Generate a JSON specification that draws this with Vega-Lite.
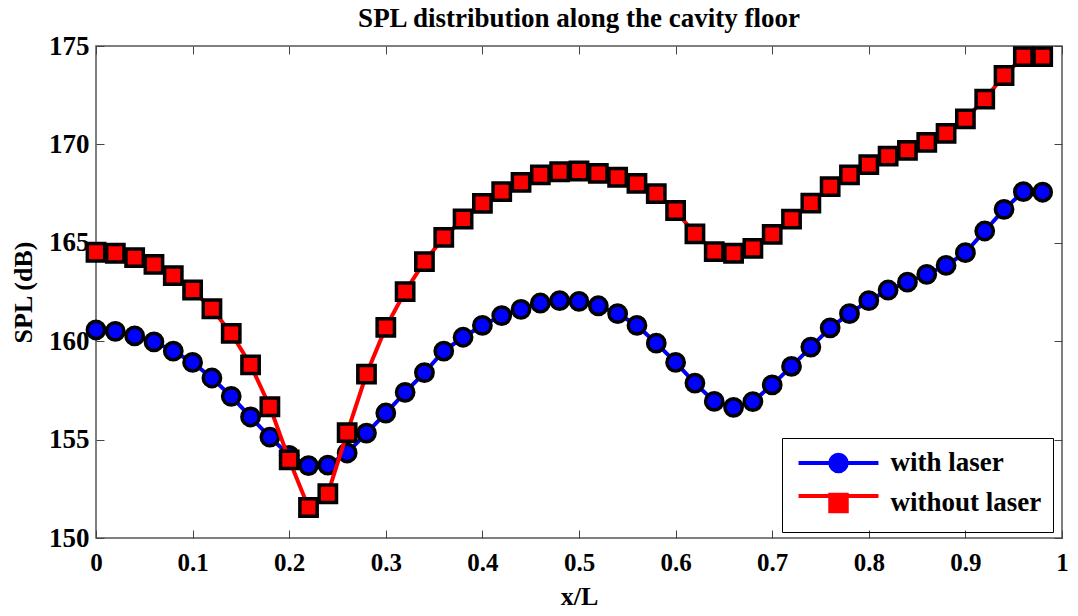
{
  "$schema": "https://vega.github.io/schema/vega-lite/v6.json",
  "width": 966,
  "height": 492,
  "autosize": {"type": "none"},
  "padding": {"left": 96, "top": 46, "right": 16, "bottom": 78},
  "background": "white",
  "title": {
    "text": "SPL distribution along the cavity floor",
    "font": "Liberation Serif",
    "fontSize": 27,
    "fontWeight": "bold",
    "color": "#000",
    "anchor": "middle",
    "frame": "group",
    "offset": -1
  },
  "data": {
    "values": [
      {"x": 0.00, "spl": 160.57, "series": "with laser"},
      {"x": 0.02, "spl": 160.50, "series": "with laser"},
      {"x": 0.04, "spl": 160.27, "series": "with laser"},
      {"x": 0.06, "spl": 159.97, "series": "with laser"},
      {"x": 0.08, "spl": 159.50, "series": "with laser"},
      {"x": 0.10, "spl": 158.92, "series": "with laser"},
      {"x": 0.12, "spl": 158.13, "series": "with laser"},
      {"x": 0.14, "spl": 157.20, "series": "with laser"},
      {"x": 0.16, "spl": 156.15, "series": "with laser"},
      {"x": 0.18, "spl": 155.13, "series": "with laser"},
      {"x": 0.20, "spl": 154.20, "series": "with laser"},
      {"x": 0.22, "spl": 153.68, "series": "with laser"},
      {"x": 0.24, "spl": 153.70, "series": "with laser"},
      {"x": 0.26, "spl": 154.32, "series": "with laser"},
      {"x": 0.28, "spl": 155.33, "series": "with laser"},
      {"x": 0.30, "spl": 156.35, "series": "with laser"},
      {"x": 0.32, "spl": 157.40, "series": "with laser"},
      {"x": 0.34, "spl": 158.40, "series": "with laser"},
      {"x": 0.36, "spl": 159.50, "series": "with laser"},
      {"x": 0.38, "spl": 160.20, "series": "with laser"},
      {"x": 0.40, "spl": 160.80, "series": "with laser"},
      {"x": 0.42, "spl": 161.30, "series": "with laser"},
      {"x": 0.44, "spl": 161.62, "series": "with laser"},
      {"x": 0.46, "spl": 161.94, "series": "with laser"},
      {"x": 0.48, "spl": 162.06, "series": "with laser"},
      {"x": 0.50, "spl": 162.02, "series": "with laser"},
      {"x": 0.52, "spl": 161.80, "series": "with laser"},
      {"x": 0.54, "spl": 161.40, "series": "with laser"},
      {"x": 0.56, "spl": 160.80, "series": "with laser"},
      {"x": 0.58, "spl": 159.90, "series": "with laser"},
      {"x": 0.60, "spl": 158.92, "series": "with laser"},
      {"x": 0.62, "spl": 157.87, "series": "with laser"},
      {"x": 0.64, "spl": 156.94, "series": "with laser"},
      {"x": 0.66, "spl": 156.64, "series": "with laser"},
      {"x": 0.68, "spl": 156.93, "series": "with laser"},
      {"x": 0.70, "spl": 157.78, "series": "with laser"},
      {"x": 0.72, "spl": 158.72, "series": "with laser"},
      {"x": 0.74, "spl": 159.70, "series": "with laser"},
      {"x": 0.76, "spl": 160.68, "series": "with laser"},
      {"x": 0.78, "spl": 161.40, "series": "with laser"},
      {"x": 0.80, "spl": 162.06, "series": "with laser"},
      {"x": 0.82, "spl": 162.60, "series": "with laser"},
      {"x": 0.84, "spl": 163.00, "series": "with laser"},
      {"x": 0.86, "spl": 163.40, "series": "with laser"},
      {"x": 0.88, "spl": 163.85, "series": "with laser"},
      {"x": 0.90, "spl": 164.50, "series": "with laser"},
      {"x": 0.92, "spl": 165.60, "series": "with laser"},
      {"x": 0.94, "spl": 166.70, "series": "with laser"},
      {"x": 0.96, "spl": 167.60, "series": "with laser"},
      {"x": 0.98, "spl": 167.57, "series": "with laser"},
      {"x": 0.00, "spl": 164.52, "series": "without laser"},
      {"x": 0.02, "spl": 164.47, "series": "without laser"},
      {"x": 0.04, "spl": 164.25, "series": "without laser"},
      {"x": 0.06, "spl": 163.90, "series": "without laser"},
      {"x": 0.08, "spl": 163.33, "series": "without laser"},
      {"x": 0.10, "spl": 162.60, "series": "without laser"},
      {"x": 0.12, "spl": 161.65, "series": "without laser"},
      {"x": 0.14, "spl": 160.40, "series": "without laser"},
      {"x": 0.16, "spl": 158.80, "series": "without laser"},
      {"x": 0.18, "spl": 156.67, "series": "without laser"},
      {"x": 0.20, "spl": 153.97, "series": "without laser"},
      {"x": 0.22, "spl": 151.55, "series": "without laser"},
      {"x": 0.24, "spl": 152.25, "series": "without laser"},
      {"x": 0.26, "spl": 155.35, "series": "without laser"},
      {"x": 0.28, "spl": 158.33, "series": "without laser"},
      {"x": 0.30, "spl": 160.70, "series": "without laser"},
      {"x": 0.32, "spl": 162.52, "series": "without laser"},
      {"x": 0.34, "spl": 164.04, "series": "without laser"},
      {"x": 0.36, "spl": 165.28, "series": "without laser"},
      {"x": 0.38, "spl": 166.21, "series": "without laser"},
      {"x": 0.40, "spl": 167.00, "series": "without laser"},
      {"x": 0.42, "spl": 167.60, "series": "without laser"},
      {"x": 0.44, "spl": 168.07, "series": "without laser"},
      {"x": 0.46, "spl": 168.45, "series": "without laser"},
      {"x": 0.48, "spl": 168.61, "series": "without laser"},
      {"x": 0.50, "spl": 168.65, "series": "without laser"},
      {"x": 0.52, "spl": 168.53, "series": "without laser"},
      {"x": 0.54, "spl": 168.33, "series": "without laser"},
      {"x": 0.56, "spl": 168.02, "series": "without laser"},
      {"x": 0.58, "spl": 167.50, "series": "without laser"},
      {"x": 0.60, "spl": 166.64, "series": "without laser"},
      {"x": 0.62, "spl": 165.45, "series": "without laser"},
      {"x": 0.64, "spl": 164.55, "series": "without laser"},
      {"x": 0.66, "spl": 164.47, "series": "without laser"},
      {"x": 0.68, "spl": 164.72, "series": "without laser"},
      {"x": 0.70, "spl": 165.43, "series": "without laser"},
      {"x": 0.72, "spl": 166.20, "series": "without laser"},
      {"x": 0.74, "spl": 167.02, "series": "without laser"},
      {"x": 0.76, "spl": 167.85, "series": "without laser"},
      {"x": 0.78, "spl": 168.45, "series": "without laser"},
      {"x": 0.80, "spl": 168.97, "series": "without laser"},
      {"x": 0.82, "spl": 169.40, "series": "without laser"},
      {"x": 0.84, "spl": 169.70, "series": "without laser"},
      {"x": 0.86, "spl": 170.10, "series": "without laser"},
      {"x": 0.88, "spl": 170.56, "series": "without laser"},
      {"x": 0.90, "spl": 171.30, "series": "without laser"},
      {"x": 0.92, "spl": 172.30, "series": "without laser"},
      {"x": 0.94, "spl": 173.50, "series": "without laser"},
      {"x": 0.96, "spl": 174.46, "series": "without laser"},
      {"x": 0.98, "spl": 174.46, "series": "without laser"}
    ]
  },
  "layer": [
    {
      "transform": [{"filter": "datum.series === 'with laser'"}],
      "mark": {"type": "line", "strokeWidth": 4, "opacity": 1},
      "encoding": {
        "x": {
          "field": "x", "type": "quantitative",
          "scale": {"domain": [0, 1], "nice": false, "zero": false},
          "axis": {
            "orient": "bottom", "title": "x/L",
            "values": [0, 0.1, 0.2, 0.3, 0.4, 0.5, 0.6, 0.7, 0.8, 0.9, 1],
            "format": "~g", "grid": false, "domain": false,
            "tickSize": -8, "tickColor": "#444", "tickWidth": 1,
            "labelPadding": 20, "labelFlush": false, "labelOverlap": false,
            "labelFont": "Liberation Serif", "labelFontSize": 25, "labelFontWeight": "bold", "labelColor": "#000",
            "titleFont": "Liberation Serif", "titleFontSize": 26, "titleFontWeight": "bold", "titleColor": "#000",
            "titlePadding": 8
          }
        },
        "y": {
          "field": "spl", "type": "quantitative",
          "scale": {"domain": [150, 175], "nice": false, "zero": false},
          "axis": {
            "orient": "left", "title": "SPL (dB)",
            "values": [150, 155, 160, 165, 170, 175],
            "grid": false, "domain": false,
            "tickSize": -8, "tickColor": "#444", "tickWidth": 1,
            "labelPadding": 15, "labelFlush": false, "labelOverlap": false,
            "labelFont": "Liberation Serif", "labelFontSize": 27, "labelFontWeight": "bold", "labelColor": "#000",
            "titleFont": "Liberation Serif", "titleFontSize": 26, "titleFontWeight": "bold", "titleColor": "#000",
            "titlePadding": 12
          }
        },
        "stroke": {
          "field": "series", "type": "nominal",
          "scale": {"domain": ["with laser", "without laser", "-"], "range": ["#0000ff", "#ff0000", "#000000"]},
          "legend": {
            "title": null, "orient": "none", "legendX": 686, "legendY": 392,
            "direction": "vertical",
            "values": ["with laser", "without laser"],
            "padding": 11.5, "rowPadding": 5,
            "symbolType": "M-3.9,0H3.9", "symbolSize": 420, "symbolStrokeWidth": 4,
            "symbolOffset": 31.5, "labelOffset": 38.5,
            "labelFont": "Liberation Serif", "labelFontSize": 27, "labelFontWeight": "bold",
            "labelOpacity": 0
          }
        }
      }
    },
    {
      "transform": [{"filter": "datum.series === 'with laser'"}],
      "mark": {"type": "point", "filled": true, "size": 300, "stroke": "#000", "strokeWidth": 3.5, "opacity": 1},
      "encoding": {
        "x": {"field": "x", "type": "quantitative", "axis": null},
        "y": {"field": "spl", "type": "quantitative", "axis": null},
        "fill": {
          "field": "series", "type": "nominal",
          "scale": {"domain": ["with laser", "without laser"], "range": ["#0000ff", "#ff0000"]},
          "legend": {
            "title": null, "orient": "none", "legendX": 686, "legendY": 392,
            "direction": "vertical",
            "padding": 11.5, "rowPadding": 5,
            "strokeColor": "#000",
            "symbolSize": 420, "symbolStrokeColor": "#000", "symbolStrokeWidth": 3.5, "symbolOpacity": 1,
            "symbolOffset": 31.5, "labelOffset": 38.5,
            "labelFont": "Liberation Serif", "labelFontSize": 27, "labelFontWeight": "bold", "labelColor": "#000"
          }
        },
        "shape": {
          "field": "series", "type": "nominal",
          "scale": {"domain": ["with laser", "without laser"], "range": ["circle", "square"]},
          "legend": {
            "title": null, "orient": "none", "legendX": 686, "legendY": 392,
            "direction": "vertical",
            "padding": 11.5, "rowPadding": 5,
            "strokeColor": "#000",
            "symbolSize": 420, "symbolStrokeColor": "#000", "symbolStrokeWidth": 3.5, "symbolOpacity": 1,
            "symbolOffset": 31.5, "labelOffset": 38.5,
            "labelFont": "Liberation Serif", "labelFontSize": 27, "labelFontWeight": "bold", "labelColor": "#000"
          }
        }
      }
    },
    {
      "transform": [{"filter": "datum.series === 'without laser'"}],
      "mark": {"type": "line", "strokeWidth": 4, "opacity": 1},
      "encoding": {
        "x": {
          "field": "x", "type": "quantitative",
          "axis": {
            "orient": "top", "title": null, "labels": false,
            "values": [0, 0.1, 0.2, 0.3, 0.4, 0.5, 0.6, 0.7, 0.8, 0.9, 1],
            "grid": false, "domain": false,
            "tickSize": -8, "tickColor": "#444", "tickWidth": 1
          }
        },
        "y": {
          "field": "spl", "type": "quantitative",
          "axis": {
            "orient": "right", "title": null, "labels": false,
            "values": [150, 155, 160, 165, 170, 175],
            "grid": false, "domain": false,
            "tickSize": -8, "tickColor": "#444", "tickWidth": 1
          }
        },
        "stroke": {"field": "series", "type": "nominal"}
      }
    },
    {
      "transform": [{"filter": "datum.series === 'without laser'"}],
      "mark": {"type": "point", "filled": true, "size": 300, "stroke": "#000", "strokeWidth": 3.5, "opacity": 1},
      "encoding": {
        "x": {"field": "x", "type": "quantitative", "axis": null},
        "y": {"field": "spl", "type": "quantitative", "axis": null},
        "fill": {"field": "series", "type": "nominal"},
        "shape": {"field": "series", "type": "nominal"}
      }
    }
  ],
  "resolve": {"axis": {"x": "independent", "y": "independent"}},
  "config": {
    "view": {"stroke": "#555", "strokeWidth": 1.5},
    "font": "Liberation Serif"
  }
}
